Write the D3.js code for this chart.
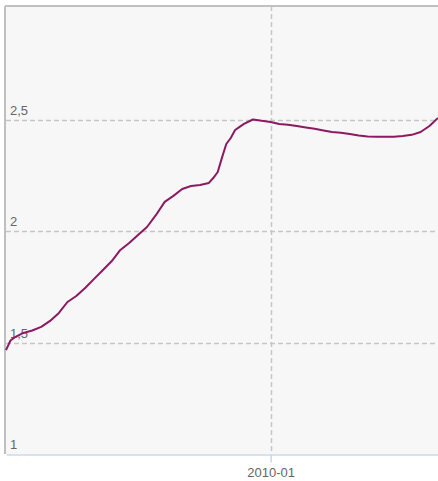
<!DOCTYPE html>
<html>
<head>
<meta charset="utf-8">
<script src="https://cdn.jsdelivr.net/npm/d3@7"></script>
<style>
  body { margin: 0; background: #fff; }
  svg { display: block; font-family: "Liberation Sans", Arial, sans-serif; }
</style>
</head>
<body>
<div id="chart"></div>
<script>
// series (month, value)
var months = ["2005-01","2005-02","2005-03","2005-05","2005-07","2005-09","2005-11",
  "2006-01","2006-03","2006-05","2006-07","2006-09","2006-11",
  "2007-01","2007-03","2007-05","2007-07","2007-09","2007-11",
  "2008-01","2008-03","2008-05","2008-07","2008-09","2008-11","2008-12",
  "2009-01","2009-02","2009-03","2009-04","2009-05","2009-06","2009-07","2009-09","2009-11",
  "2010-01","2010-03","2010-05","2010-07","2010-09","2010-11",
  "2011-01","2011-03","2011-05","2011-07","2011-09","2011-11",
  "2012-01","2012-03","2012-05","2012-07","2012-09","2012-11","2013-01","2013-03"];
var values = [1.467,1.510,1.524,1.544,1.555,1.571,1.598,
  1.634,1.683,1.710,1.746,1.787,1.827,
  1.867,1.917,1.948,1.984,2.020,2.073,
  2.133,2.160,2.191,2.204,2.209,2.218,2.240,
  2.267,2.335,2.393,2.420,2.456,2.470,2.483,2.503,2.497,
  2.492,2.483,2.479,2.474,2.467,2.461,
  2.454,2.447,2.443,2.438,2.431,2.427,
  2.425,2.425,2.425,2.429,2.434,2.447,2.474,2.510];
var yTicks = [1, 1.5, 2, 2.5];
var xTicks = ["2010-01"];

var width = 438, height = 481;
var plotLeft = 6, plotTop = 6, plotRight = 438, plotBottom = 454;

var parse = d3.timeParse("%Y-%m");
var data = months.map(function(m, i) { return { date: parse(m), value: values[i] }; });

var x = d3.scaleTime()
  .domain([parse("2005-01"), parse("2013-03")])
  .range([plotLeft, plotRight]);
var y = d3.scaleLinear()
  .domain([1, 3.013])
  .range([plotBottom, plotTop]);

var svg = d3.select("#chart").append("svg")
  .attr("width", width)
  .attr("height", height);

// plot background
svg.append("rect")
  .attr("x", plotLeft).attr("y", plotTop)
  .attr("width", plotRight - plotLeft).attr("height", plotBottom - plotTop)
  .attr("fill", "#f7f7f7");

// horizontal grid
svg.selectAll(".hgrid").data(yTicks.slice(1)).enter().append("line")
  .attr("class", "hgrid")
  .attr("x1", plotLeft).attr("x2", plotRight)
  .attr("y1", function(d) { return Math.round(y(d)) + 0.5; })
  .attr("y2", function(d) { return Math.round(y(d)) + 0.5; })
  .attr("stroke", "#c6c6c6")
  .attr("stroke-width", 1.5)
  .attr("stroke-dasharray", "5,3");

// vertical grid
svg.selectAll(".vgrid").data(xTicks).enter().append("line")
  .attr("class", "vgrid")
  .attr("x1", function(d) { return Math.round(x(parse(d))) + 0.5; })
  .attr("x2", function(d) { return Math.round(x(parse(d))) + 0.5; })
  .attr("y1", plotTop).attr("y2", plotBottom)
  .attr("stroke", "#c6c6c6")
  .attr("stroke-width", 1.5)
  .attr("stroke-dasharray", "5,3");

// borders
svg.append("line")
  .attr("x1", plotLeft - 1).attr("x2", plotRight)
  .attr("y1", plotTop).attr("y2", plotTop)
  .attr("stroke", "#c0c0c0").attr("stroke-width", 2);
svg.append("line")
  .attr("x1", plotLeft - 1).attr("x2", plotLeft - 1)
  .attr("y1", plotTop).attr("y2", plotBottom)
  .attr("stroke", "#c0c0c0").attr("stroke-width", 2);

// x axis
var xAxis = d3.axisBottom(x)
  .tickValues(xTicks.map(parse))
  .tickFormat(d3.timeFormat("%Y-%m"))
  .tickSizeInner(8)
  .tickSizeOuter(0)
  .tickPadding(5);
var gx = svg.append("g")
  .attr("transform", "translate(0," + (plotBottom + 0.5) + ")")
  .call(xAxis);
gx.select(".domain").attr("stroke", "#ccd6eb").attr("stroke-width", 1.5);
gx.selectAll(".tick line").attr("stroke", "#ccd6eb").attr("stroke-width", 1.5);
gx.selectAll(".tick text")
  .attr("fill", "#666")
  .style("font-size", "13px");

// y labels inside the plot
var fmt = function(d) { return String(d).replace(".", ","); };
svg.selectAll(".ylab").data(yTicks).enter().append("text")
  .attr("class", "ylab")
  .attr("x", 10)
  .attr("y", function(d) { return y(d) - 5; })
  .attr("fill", "#666")
  .style("font-size", "13px")
  .text(fmt);

// series line
var line = d3.line()
  .x(function(d) { return x(d.date); })
  .y(function(d) { return y(d.value); });

svg.append("path")
  .datum(data)
  .attr("d", line)
  .attr("fill", "none")
  .attr("stroke", "#8b1a60")
  .attr("stroke-width", 2)
  .attr("stroke-linejoin", "round");
</script>
</body>
</html>
